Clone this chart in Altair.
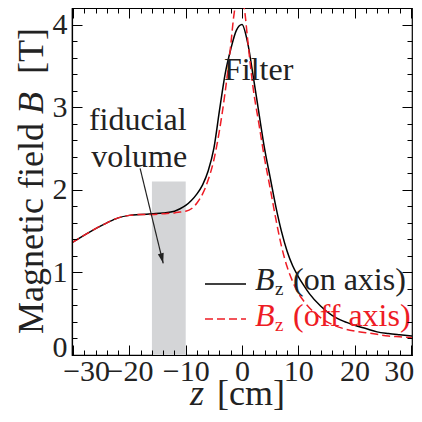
import altair as alt
import pandas as pd

# ---------------- data ----------------
z_on = [-30.2, -28, -26, -24, -22, -20, -18, -16, -14, -12, -11, -10,
        -9, -8, -7, -6, -5, -4, -3, -2, -1, 0,
        1, 2, 3, 4, 5, 6, 7, 8, 9, 10, 11, 12,
        14, 16, 18, 20, 22, 24, 26, 28, 30.2]
b_on = [1.36, 1.45, 1.53, 1.60, 1.66, 1.69, 1.70, 1.71, 1.72, 1.74, 1.77, 1.81,
        1.87, 1.95, 2.06, 2.23, 2.50, 2.96, 3.40, 3.70, 3.93, 4.00,
        3.78, 3.37, 2.93, 2.50, 2.15, 1.80, 1.50, 1.26, 1.08, 0.95, 0.84, 0.74,
        0.59, 0.48, 0.41, 0.36, 0.32, 0.28, 0.26, 0.245, 0.23]

z_off = [-30.2, -28, -26, -24, -22, -20, -18, -16, -14, -12, -11, -10,
         -9, -8, -7, -6, -5, -4, -3, -2,
         -1.5, -1, -0.5, 0, 0.5,
         1, 2, 3, 4, 5, 6, 7, 8, 9, 10, 11, 12,
         14, 16, 18, 20, 22, 24, 26, 28, 30.2]
b_off = [1.36, 1.45, 1.53, 1.60, 1.66, 1.69, 1.70, 1.70, 1.71, 1.72, 1.73, 1.74,
         1.77, 1.84, 1.95, 2.12, 2.36, 2.72, 3.18, 3.75,
         4.08, 4.30, 4.38, 4.33, 4.15,
         3.82, 3.22, 2.80, 2.38, 2.02, 1.65, 1.32, 1.07, 0.89, 0.75, 0.65, 0.57,
         0.45, 0.37, 0.32, 0.29, 0.27, 0.25, 0.23, 0.22, 0.21]

fiducial_z = [-16, -10]
fiducial_b = [0, 2.1]

x_major = [-30, -20, -10, 0, 10, 20, 30]
x_minor = [-28, -26, -24, -22, -18, -16, -14, -12, -8, -6, -4, -2,
           2, 4, 6, 8, 12, 14, 16, 18, 22, 24, 26, 28]
y_major = [0, 1, 2, 3, 4]
y_minor = [0.2, 0.4, 0.6, 0.8, 1.2, 1.4, 1.6, 1.8, 2.2, 2.4, 2.6, 2.8,
           3.2, 3.4, 3.6, 3.8, 4.0]

# annotation text (data coordinates)
ann_text = ["Filter", "fiducial", "volume"]
ann_z = [-3.2, -27.2, -26.8]
ann_b = [3.33, 2.72, 2.28]
arrow_z = [-18.1, -14.0]
arrow_b = [2.26, 1.11]

# ---------------- styling ----------------
FONT = "Liberation Serif, Times New Roman, serif"
TXT = "#222222"
RED = "#ee1c25"
W, H = 340, 347

xs = alt.Scale(domain=[-30.2, 30.2], nice=False, zero=False)
ys = alt.Scale(domain=[0, 4.2], nice=False, zero=False)

on_df = pd.DataFrame({"z": z_on, "b": b_on})
off_df = pd.DataFrame({"z": z_off, "b": b_off})
band_df = pd.DataFrame({"x0": [fiducial_z[0]], "x1": [fiducial_z[1]],
                        "y0": [fiducial_b[0]], "y1": [fiducial_b[1]]})
ann_df = pd.DataFrame({"z": ann_z, "b": ann_b, "t": ann_text})
arrow_df = pd.DataFrame({"z": [arrow_z[0]], "b": [arrow_b[0]],
                         "z2": [arrow_z[1]], "b2": [arrow_b[1]]})
head_df = pd.DataFrame({"z": [arrow_z[1]], "b": [arrow_b[1]]})
frame_df = pd.DataFrame({"z": [-30.2, 30.2], "b": [0.0, 4.2]})
one = pd.DataFrame({"k": [0]})

x_label_axis = alt.Axis(
    orient="bottom", values=x_major, ticks=False, domain=True,
    domainColor="black", domainWidth=1.2, grid=False, title=None,
    labelFont=FONT, labelFontSize=30, labelColor=TXT, labelPadding=1,
    labelOverlap=False, zindex=1,
    labelOffset={"condition": [{"test": "datum.value == -30", "value": 13},
                               {"test": "datum.value == 30", "value": -12}],
                 "value": 0},
)
y_label_axis = alt.Axis(
    orient="left", values=y_major, ticks=False, domain=True,
    domainColor="black", domainWidth=1.2, grid=False, title=None,
    labelFont=FONT, labelFontSize=30, labelColor=TXT, labelPadding=5,
    labelOverlap=False, zindex=1,
    labelOffset={"condition": {"test": "datum.value == 0", "value": -8},
                 "value": 0},
)

band = alt.Chart(band_df).mark_rect(color="#d4d5d7").encode(
    x=alt.X("x0:Q", scale=xs, axis=x_label_axis),
    x2="x1:Q",
    y=alt.Y("y0:Q", scale=ys, axis=y_label_axis),
    y2="y1:Q",
)


def tick_axis(orient, values, size, offset):
    return alt.Axis(orient=orient, values=values, tickSize=size, offset=offset,
                    labels=False, domain=False, title=None, grid=False,
                    ticks=True, tickColor="black", tickWidth=1, zindex=2)


def tick_layer(xax, yax):
    return alt.Chart(frame_df).mark_point(opacity=0).encode(
        x=alt.X("z:Q", scale=xs, axis=xax),
        y=alt.Y("b:Q", scale=ys, axis=yax),
    )


ticks = [
    tick_layer(tick_axis("top", x_major, 10, -H), tick_axis("right", y_major, 10, -W)),
    tick_layer(tick_axis("top", x_minor, 5, -H), tick_axis("right", y_minor, 5, -W)),
    tick_layer(tick_axis("bottom", x_major, 10, -H), tick_axis("left", y_major, 10, -W)),
    tick_layer(tick_axis("bottom", x_minor, 5, -H), tick_axis("left", y_minor, 5, -W)),
]

line_on = alt.Chart(on_df).mark_line(
    color="black", strokeWidth=1.5, interpolate="monotone", clip=True
).encode(x=alt.X("z:Q", scale=xs, axis=None), y=alt.Y("b:Q", scale=ys, axis=None))

line_off = alt.Chart(off_df).mark_line(
    color=RED, strokeWidth=1.5, strokeDash=[8, 4], interpolate="monotone", clip=True
).encode(x=alt.X("z:Q", scale=xs, axis=None), y=alt.Y("b:Q", scale=ys, axis=None))

ann = alt.Chart(ann_df).mark_text(
    align="left", baseline="alphabetic", font=FONT, fontSize=32, color=TXT
).encode(x=alt.X("z:Q", scale=xs, axis=None), y=alt.Y("b:Q", scale=ys, axis=None), text="t:N")

arrow = alt.Chart(arrow_df).mark_rule(color=TXT, strokeWidth=1.2).encode(
    x=alt.X("z:Q", scale=xs, axis=None), y=alt.Y("b:Q", scale=ys, axis=None),
    x2="z2:Q", y2="b2:Q")

head = alt.Chart(head_df).mark_point(
    shape="M0,0L-0.6,-2L0.6,-2Z", size=100, filled=True, color=TXT,
    opacity=1, angle=346
).encode(x=alt.X("z:Q", scale=xs, axis=None), y=alt.Y("b:Q", scale=ys, axis=None))


def ptext(s, x, y, size, color=TXT, style="normal", align="left", angle=0):
    kw = dict(text=s, font=FONT, fontSize=size, color=color, fontStyle=style,
              align=align, baseline="alphabetic")
    if angle:
        kw["angle"] = angle
    return alt.Chart(one).mark_text(**kw).encode(x=alt.value(x), y=alt.value(y))


def prule(x1, x2, y, color, dash=None):
    kw = dict(color=color, strokeWidth=1.5)
    if dash:
        kw["strokeDash"] = dash
    return alt.Chart(one).mark_rule(**kw).encode(
        x=alt.value(x1), x2=alt.value(x2), y=alt.value(y))


legend = [
    prule(133, 174, 276, "black"),
    ptext("B", 183, 282, 32, style="italic"),
    ptext("z", 203, 287, 19),
    ptext("(on axis)", 221, 282, 32),
    prule(133, 174, 311, RED, dash=[8, 4]),
    ptext("B", 183, 318, 32, color=RED, style="italic"),
    ptext("z", 203, 323, 19, color=RED),
    ptext("(off axis)", 221, 318, 32, color=RED),
]

titles = [
    ptext("z", 118, 397, 36, style="italic"),
    ptext("[cm]", 145, 397, 36),
    ptext("Magnetic field", -29, 115, 36, align="right", angle=270),
    ptext("B", -29, 95, 36, style="italic", align="center", angle=270),
    ptext("[T]", -29, 66, 36, align="left", angle=270),
]

chart = alt.layer(
    band, *ticks, line_on, line_off, ann, arrow, head, *legend, *titles
).resolve_axis(x="independent", y="independent").properties(
    width=W, height=H,
    padding={"left": 64, "top": 0, "right": 2, "bottom": 57},
    autosize=alt.AutoSizeParams(type="none"),
).configure_view(stroke="black", strokeWidth=1.2).configure_axis(grid=False)

chart.save("out.html", embed_options={"renderer": "svg", "actions": False})
